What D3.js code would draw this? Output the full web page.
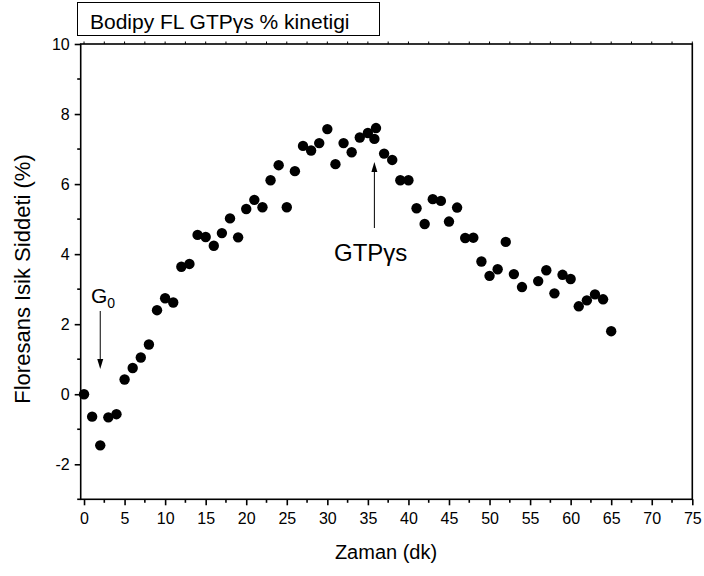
<!DOCTYPE html>
<html>
<head>
<meta charset="utf-8">
<script src="https://cdn.jsdelivr.net/npm/d3@7"></script>
<style>
  html, body { margin: 0; padding: 0; background: #fff; }
  svg { display: block; font-family: Arial, "Liberation Sans", sans-serif; }
</style>
</head>
<body>
<svg id="chart" width="704" height="576"></svg>
<script>
// Time (min) of each reading
const minutes = [0, 1, 2, 3, 4, 5, 6, 7, 8, 9, 10, 11, 12, 13, 14, 15, 16, 17, 18, 19,
  20, 21, 22, 23, 24, 25, 26, 27, 28, 29, 30, 31, 32, 33, 34, 35, 35.8, 36, 37, 38, 39,
  40, 41, 42, 43, 44, 45, 46, 47, 48, 49, 50, 51, 52, 53, 54, 56, 57, 58, 59,
  60, 61, 62, 63, 64, 65];
// Fluorescence intensity (%)
const intensity = [0.00, -0.64, -1.46, -0.66, -0.57, 0.42, 0.75, 1.05, 1.42, 2.40,
  2.74, 2.62, 3.64, 3.72, 4.55, 4.49, 4.24, 4.60, 5.02, 4.48,
  5.29, 5.55, 5.34, 6.11, 6.54, 5.34, 6.37, 7.09, 6.96, 7.17,
  7.57, 6.57, 7.17, 6.91, 7.33, 7.46, 7.29, 7.60, 6.87, 6.69, 6.11,
  6.11, 5.31, 4.86, 5.57, 5.52, 4.93, 5.33, 4.46, 4.47, 3.79,
  3.38, 3.57, 4.35, 3.43, 3.06, 3.23, 3.54, 2.88, 3.41,
  3.29, 2.51, 2.68, 2.85, 2.71, 1.80];

const xTicks = [0, 5, 10, 15, 20, 25, 30, 35, 40, 45, 50, 55, 60, 65, 70, 75];
const yTicks = [-2, 0, 2, 4, 6, 8, 10];

const titleText = "Bodipy FL GTP\u03b3s % kinetigi";
const xTitle = "Zaman (dk)";
const yTitle = "Floresans Isik Siddeti (%)";

const svg = d3.select("#chart");
const plotL = 80.7, plotR = 692.3, plotT = 44, plotB = 499.3;

const x = d3.scaleLinear().domain([-0.41, 75]).range([plotL, plotR]);
const y = d3.scaleLinear().domain([-3, 10]).range([plotB, plotT]);

const minorX = d3.range(2.5, 75, 5);
const minorY = d3.range(-3, 10, 2);
const plainNum = d => String(d);

// frame
svg.append("rect")
  .attr("x", plotL).attr("y", plotT)
  .attr("width", plotR - plotL).attr("height", plotB - plotT)
  .attr("fill", "none").attr("stroke", "#000").attr("stroke-width", 1.6);

// bottom axis
const xAxis = d3.axisBottom(x).tickValues(xTicks).tickSize(6).tickPadding(7)
  .tickFormat(plainNum);
const gx = svg.append("g").attr("transform", `translate(0,${plotB})`).call(xAxis);
gx.select(".domain").remove();
gx.selectAll(".tick line").attr("stroke-width", 1.6);
gx.selectAll("text").attr("font-size", 16).attr("fill", "#000")
  .attr("font-family", "Arial, 'Liberation Sans', sans-serif");
gx.selectAll(".minor").data(minorX).enter().append("line")
  .attr("class", "minor")
  .attr("x1", d => x(d)).attr("x2", d => x(d))
  .attr("y1", 0).attr("y2", 3.5)
  .attr("stroke", "#000").attr("stroke-width", 1.6);

// top axis: small mirror ticks
const gTop = svg.append("g").attr("transform", `translate(0,${plotT})`);
gTop.selectAll("line").data(xTicks.concat(minorX)).enter().append("line")
  .attr("x1", d => x(d)).attr("x2", d => x(d))
  .attr("y1", 0).attr("y2", -2.5)
  .attr("stroke", "#000").attr("stroke-width", 1);

// left axis
const yAxis = d3.axisLeft(y).tickValues(yTicks).tickSize(6).tickPadding(5)
  .tickFormat(plainNum);
const gy = svg.append("g").attr("transform", `translate(${plotL},0)`).call(yAxis);
gy.select(".domain").remove();
gy.selectAll(".tick line").attr("stroke-width", 1.6);
gy.selectAll("text").attr("font-size", 16).attr("fill", "#000")
  .attr("font-family", "Arial, 'Liberation Sans', sans-serif");
gy.selectAll(".minor").data(minorY).enter().append("line")
  .attr("class", "minor")
  .attr("y1", d => y(d)).attr("y2", d => y(d))
  .attr("x1", 0).attr("x2", -3.5)
  .attr("stroke", "#000").attr("stroke-width", 1.6);

// axis titles
svg.append("text")
  .attr("x", 386).attr("y", 559)
  .attr("text-anchor", "middle").attr("font-size", 20)
  .text(xTitle);
svg.append("text")
  .attr("transform", "translate(30,279) rotate(-90)")
  .attr("text-anchor", "middle").attr("font-size", 22)
  .text(yTitle);

// title box
svg.append("rect")
  .attr("x", 77.5).attr("y", 2.5).attr("width", 302).attr("height", 33)
  .attr("fill", "#fff").attr("stroke", "#000").attr("stroke-width", 1);
svg.append("text")
  .attr("x", 90).attr("y", 29)
  .attr("font-size", 21)
  .text(titleText);

// data points
svg.append("g").selectAll("circle")
  .data(minutes.map((m, i) => [m, intensity[i]]))
  .enter().append("circle")
  .attr("cx", d => x(d[0])).attr("cy", d => y(d[1]))
  .attr("r", 5.2).attr("fill", "#000");

// annotation arrows
function arrow(x0, y0, y1) {
  const dir = y1 > y0 ? 1 : -1;
  svg.append("line")
    .attr("x1", x0).attr("x2", x0).attr("y1", y0).attr("y2", y1 - dir * 8)
    .attr("stroke", "#000").attr("stroke-width", 1);
  svg.append("path")
    .attr("d", `M${x0 - 3},${y1 - dir * 10} L${x0},${y1} L${x0 + 3},${y1 - dir * 10} Z`)
    .attr("fill", "#000");
}
arrow(x(2), 311, 369);
arrow(x(35.8), 228, 162);

const g0 = svg.append("text").attr("x", 91).attr("y", 303).attr("font-size", 21);
g0.append("tspan").text("G");
g0.append("tspan").attr("font-size", 14).attr("dy", 5).text("0");

svg.append("text")
  .attr("x", 334).attr("y", 261).attr("font-size", 24)
  .text("GTP\u03b3s");
</script>
</body>
</html>
